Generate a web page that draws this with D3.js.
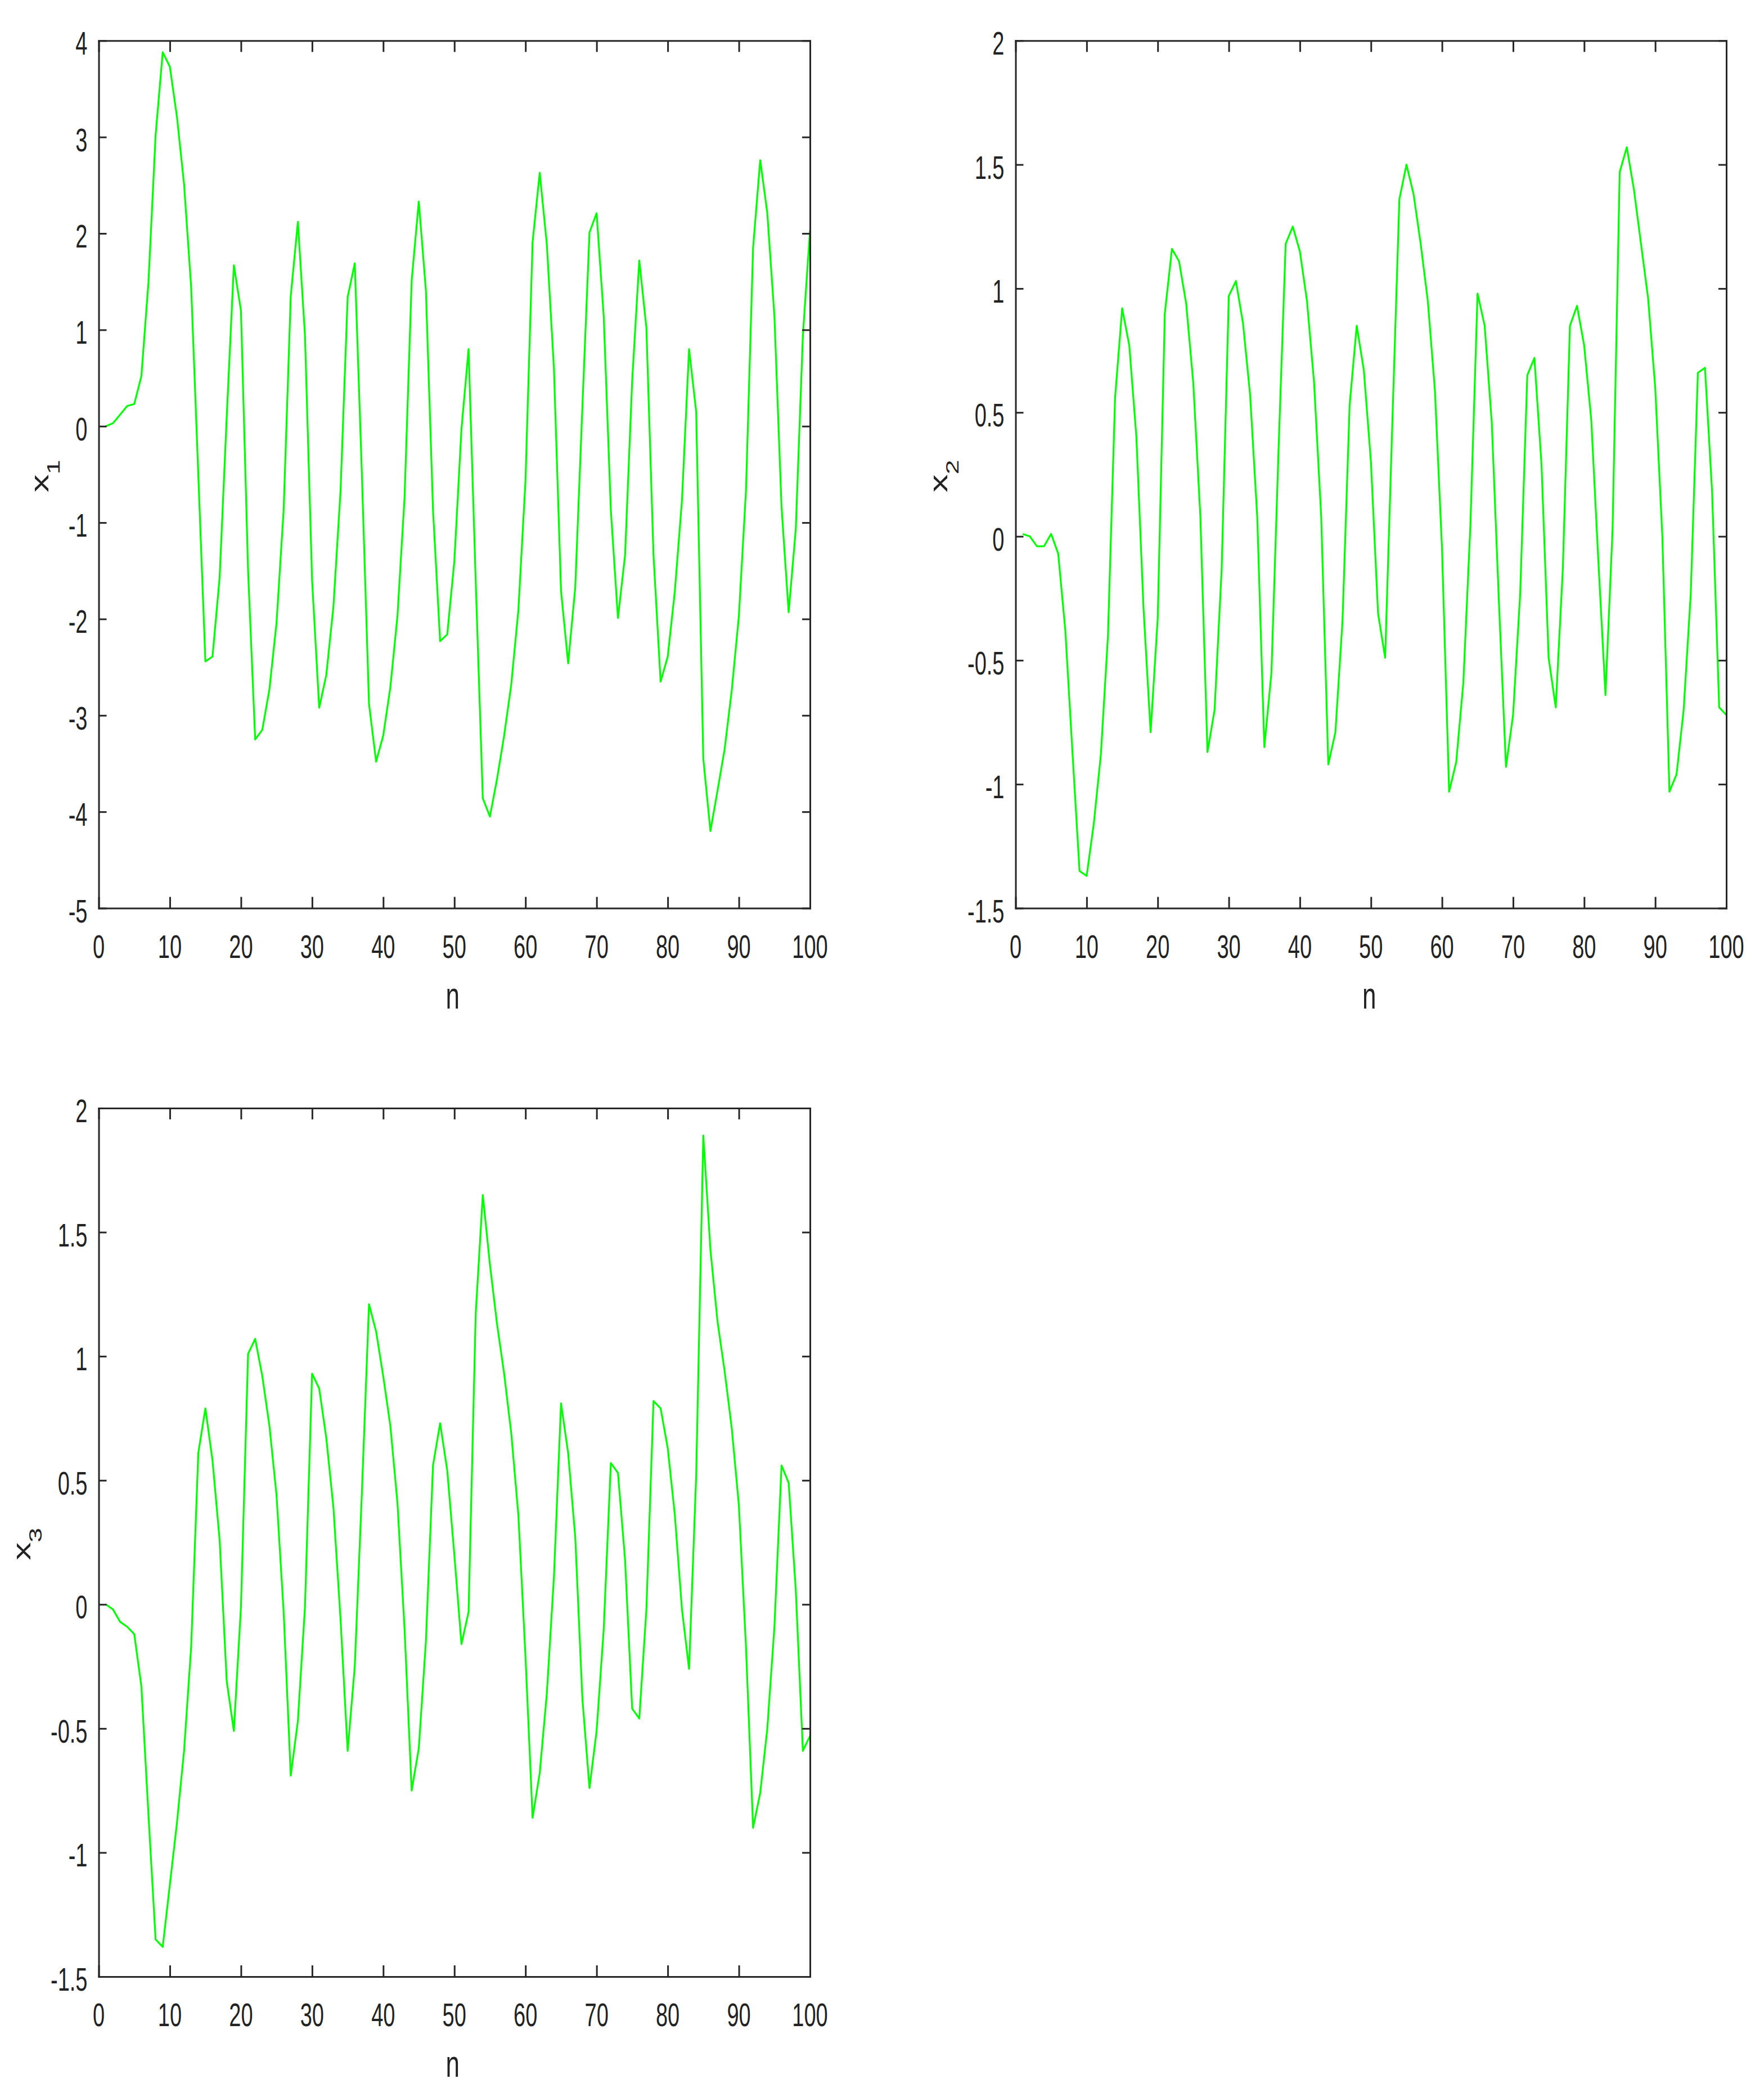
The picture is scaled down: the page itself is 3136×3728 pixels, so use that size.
<!DOCTYPE html>
<html>
<head>
<meta charset="utf-8">
<script src="https://cdn.jsdelivr.net/npm/d3@7"></script>
<style>
  html, body { margin: 0; padding: 0; background: #ffffff; }
  svg { display: block; }
  text { font-family: "Liberation Sans", Arial, Helvetica, sans-serif; fill: #222222; }
</style>
</head>
<body>
<svg id="chart" width="3136" height="3728"></svg>
<script>
// ---------------- DATA ----------------
const xTickValues = [0, 10, 20, 30, 40, 50, 60, 70, 80, 90, 100];
const yTicksX1 = [-5, -4, -3, -2, -1, 0, 1, 2, 3, 4];
const yTicksX2 = [-1.5, -1, -0.5, 0, 0.5, 1, 1.5, 2];
const yTicksX3 = [-1.5, -1, -0.5, 0, 0.5, 1, 1.5, 2];

const nValues = d3.range(1, 101); // sample index n = 1..100

const x1Values = [
  0, 0.03, 0.12, 0.21, 0.23, 0.52, 1.5, 3.02, 3.88, 3.73,
  3.21, 2.51, 1.44, -0.5, -2.44, -2.39, -1.57, 0.1, 1.67, 1.2,
  -1.5, -3.25, -3.15, -2.73, -2.04, -0.87, 1.35, 2.12, 0.94, -1.6,
  -2.92, -2.58, -1.87, -0.67, 1.34, 1.69, -0.5, -2.88, -3.48, -3.21,
  -2.71, -1.97, -0.74, 1.51, 2.33, 1.41, -0.87, -2.23, -2.16, -1.4,
  -0.03, 0.80, -1.6, -3.86, -4.05, -3.66, -3.21, -2.68, -1.91, -0.57,
  1.91, 2.63, 1.89, 0.6, -1.71, -2.46, -1.67, 0.2, 2.01, 2.21,
  1.14, -0.87, -1.99, -1.34, 0.47, 1.72, 1.02, -1.34, -2.65, -2.39,
  -1.71, -0.77, 0.80, 0.15, -3.45, -4.2, -3.78, -3.35, -2.74, -1.97,
  -0.67, 1.85, 2.76, 2.21, 1.14, -0.84, -1.93, -1.07, 0.94, 2.03
];

const x2Values = [
  0.01, 0.0, -0.04, -0.04, 0.01, -0.07, -0.38, -0.87, -1.35, -1.37,
  -1.16, -0.88, -0.40, 0.56, 0.92, 0.77, 0.40, -0.29, -0.79, -0.33,
  0.90, 1.16, 1.11, 0.94, 0.62, 0.08, -0.87, -0.70, -0.13, 0.97,
  1.03, 0.86, 0.57, 0.08, -0.85, -0.55, 0.35, 1.18, 1.25, 1.15,
  0.95, 0.62, 0.08, -0.92, -0.79, -0.34, 0.53, 0.85, 0.67, 0.30,
  -0.31, -0.49, 0.45, 1.36, 1.50, 1.38, 1.18, 0.95, 0.59, -0.05,
  -1.03, -0.91, -0.59, 0.05, 0.98, 0.85, 0.46, -0.26, -0.93, -0.72,
  -0.23, 0.65, 0.72, 0.29, -0.49, -0.69, -0.13, 0.85, 0.93, 0.77,
  0.47, -0.10, -0.64, 0.03, 1.47, 1.57, 1.40, 1.18, 0.96, 0.60,
  0.0, -1.03, -0.96, -0.70, -0.23, 0.66, 0.68, 0.18, -0.69, -0.72
];

const x3Values = [
  0, -0.02, -0.07, -0.09, -0.12, -0.33, -0.85, -1.35, -1.38, -1.13,
  -0.88, -0.59, -0.17, 0.61, 0.79, 0.58, 0.26, -0.31, -0.51, -0.01,
  1.01, 1.07, 0.92, 0.72, 0.44, -0.03, -0.69, -0.47, -0.01, 0.93,
  0.87, 0.67, 0.39, -0.06, -0.59, -0.25, 0.45, 1.21, 1.10, 0.92,
  0.72, 0.41, -0.10, -0.75, -0.58, -0.15, 0.56, 0.73, 0.54, 0.20,
  -0.16, -0.03, 1.17, 1.65, 1.37, 1.13, 0.93, 0.69, 0.36, -0.21,
  -0.86, -0.68, -0.36, 0.11, 0.81, 0.61, 0.27, -0.38, -0.74, -0.51,
  -0.10, 0.57, 0.53, 0.18, -0.42, -0.46, -0.02, 0.82, 0.79, 0.63,
  0.36, -0.02, -0.26, 0.52, 1.89, 1.43, 1.14, 0.94, 0.71, 0.40,
  -0.17, -0.90, -0.76, -0.50, -0.09, 0.56, 0.49, 0.06, -0.59, -0.53
];

const xLabel = "n";
const yLabels = [["x", "1"], ["x", "2"], ["x", "3"]];

// ---------------- LAYOUT ----------------
const svg = d3.select("#chart");
const AXIS_COLOR = "#262626";
const LINE_COLOR = "#00ff00";
const SY = 1.5; // vertical text stretch of the reference

const panels = [
  { left: 175.5, right: 1440, top: 72.3, bottom: 1614.5, yDomain: [-5, 4], yTicks: yTicksX1, values: x1Values, label: yLabels[0], labelOffset: 89.5 },
  { left: 1805.5, right: 3069, top: 72.3, bottom: 1614.5, yDomain: [-1.5, 2], yTicks: yTicksX2, values: x2Values, label: yLabels[1], labelOffset: 122 },
  { left: 175.5, right: 1440, top: 1970, bottom: 3514, yDomain: [-1.5, 2], yTicks: yTicksX3, values: x3Values, label: yLabels[2], labelOffset: 122 }
];

function fmt(v) {
  return String(v); // plain "-" hyphen, e.g. -0.5
}

panels.forEach(p => {
  const g = svg.append("g");
  const x = d3.scaleLinear().domain([0, 100]).range([p.left, p.right]);
  const y = d3.scaleLinear().domain(p.yDomain).range([p.bottom, p.top]);

  // data line
  const data = nValues.map((n, i) => [n, p.values[i]]);
  g.append("path")
    .datum(data)
    .attr("fill", "none")
    .attr("stroke", LINE_COLOR)
    .attr("stroke-width", 3.2)
    .attr("stroke-linejoin", "round")
    .attr("d", d3.line().x(d => x(d[0])).y(d => y(d[1])));

  // axes (ticks pointing inward on all four sides)
  const axes = [
    { gen: d3.axisBottom(x).tickValues(xTickValues).tickSize(-20), tr: `translate(0,${p.bottom})` },
    { gen: d3.axisTop(x).tickValues(xTickValues).tickSize(-20), tr: `translate(0,${p.top})` },
    { gen: d3.axisLeft(y).tickValues(p.yTicks).tickSize(-14), tr: `translate(${p.left},0)` },
    { gen: d3.axisRight(y).tickValues(p.yTicks).tickSize(-14), tr: `translate(${p.right},0)` }
  ];
  axes.forEach(a => {
    const ag = g.append("g").attr("transform", a.tr)
      .call(a.gen.tickSizeOuter(0).tickFormat(""));
    ag.select(".domain").attr("stroke", AXIS_COLOR).attr("stroke-width", 3).attr("stroke-linecap", "square");
    ag.selectAll(".tick line").attr("stroke", AXIS_COLOR).attr("stroke-width", 3);
    ag.selectAll(".tick text").remove();
  });

  // x tick labels
  g.selectAll(".xtl").data(xTickValues).enter().append("text")
    .attr("class", "xtl")
    .attr("transform", d => `translate(${x(d)},${p.bottom + 88}) scale(1,${SY})`)
    .attr("text-anchor", "middle")
    .style("font-size", "38px")
    .text(d => fmt(d));

  // y tick labels
  g.selectAll(".ytl").data(p.yTicks).enter().append("text")
    .attr("class", "ytl")
    .attr("transform", d => `translate(${p.left - 20},${y(d) + 25}) scale(1,${SY})`)
    .attr("text-anchor", "end")
    .style("font-size", "38px")
    .text(d => fmt(d));

  // x label
  g.append("text")
    .attr("transform", `translate(${(p.left + p.right) / 2 - 3},${p.bottom + 178}) scale(1,${SY})`)
    .attr("text-anchor", "middle")
    .style("font-size", "44px")
    .text(xLabel);

  // y label with subscript
  const yl = g.append("text")
    .attr("transform", `translate(${p.left - p.labelOffset},${(p.top + p.bottom) / 2 + 3}) scale(1,1.45) rotate(-90)`)
    .attr("text-anchor", "middle")
    .style("font-size", "44px");
  yl.append("tspan").text(p.label[0]);
  yl.append("tspan").attr("dy", 20).style("font-size", "32px").text(p.label[1]);
});
</script>
</body>
</html>
